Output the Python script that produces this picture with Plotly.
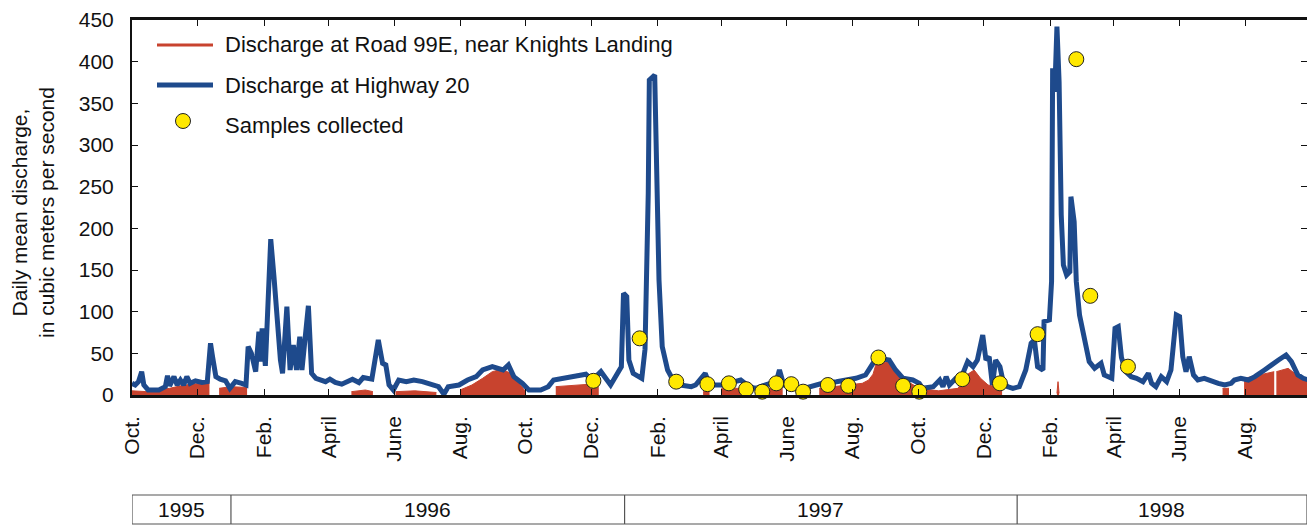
import plotly.graph_objects as go

# ---------------- data ----------------
hw20_dates = [
    "1995-10-01","1995-10-04","1995-10-07","1995-10-10","1995-10-12","1995-10-16","1995-10-26",
    "1995-11-01","1995-11-03","1995-11-05","1995-11-09","1995-11-12","1995-11-15","1995-11-18",
    "1995-11-21","1995-11-24","1995-11-29","1995-12-05","1995-12-10","1995-12-13","1995-12-15",
    "1995-12-18","1995-12-22","1995-12-27","1995-12-31","1996-01-05","1996-01-11","1996-01-15",
    "1996-01-17","1996-01-20","1996-01-24","1996-01-27","1996-01-28","1996-01-30","1996-02-02",
    "1996-02-04","1996-02-07","1996-02-10","1996-02-13","1996-02-16","1996-02-18","1996-02-22",
    "1996-02-25","1996-02-28","1996-03-02","1996-03-05","1996-03-07","1996-03-13","1996-03-16",
    "1996-03-20","1996-03-29","1996-04-02","1996-04-07","1996-04-13","1996-04-23","1996-04-29",
    "1996-05-03","1996-05-11","1996-05-17","1996-05-21","1996-05-24","1996-05-27","1996-05-31",
    "1996-06-05","1996-06-12","1996-06-19","1996-06-27","1996-07-03","1996-07-12","1996-07-17",
    "1996-07-21","1996-07-31","1996-08-08","1996-08-16","1996-08-22","1996-08-31","1996-09-10",
    "1996-09-15","1996-09-20","1996-09-28","1996-10-04","1996-10-15","1996-10-22","1996-10-27",
    "1996-11-04","1996-11-16","1996-11-26","1996-12-02","1996-12-10","1996-12-19","1996-12-29",
    "1996-12-31","1997-01-03","1997-01-05","1997-01-09","1997-01-17","1997-01-20","1997-01-23",
    "1997-01-24","1997-01-29","1997-01-31","1997-02-02","1997-02-05","1997-02-10","1997-02-15",
    "1997-02-22","1997-03-04","1997-03-08","1997-03-17","1997-03-21","1997-04-02","1997-04-19",
    "1997-04-27","1997-05-03","1997-05-12","1997-05-22","1997-05-25","1997-05-29","1997-06-12",
    "1997-06-22","1997-07-04","1997-07-17","1997-08-04","1997-08-13","1997-08-20","1997-08-26",
    "1997-09-04","1997-09-10","1997-09-17","1997-09-26","1997-10-02","1997-10-05","1997-10-15",
    "1997-10-21","1997-10-24","1997-10-27","1997-10-30","1997-11-05","1997-11-11","1997-11-16",
    "1997-11-21","1997-11-25","1997-11-30","1997-12-03","1997-12-06","1997-12-09","1997-12-12",
    "1997-12-16","1997-12-19","1997-12-23","1997-12-28","1998-01-03","1998-01-09","1998-01-14",
    "1998-01-17","1998-01-20","1998-01-25","1998-01-26","1998-01-31","1998-02-02","1998-02-03",
    "1998-02-05","1998-02-07","1998-02-09","1998-02-11","1998-02-13","1998-02-16","1998-02-19",
    "1998-02-20","1998-02-23","1998-02-25","1998-02-28","1998-03-05","1998-03-09","1998-03-14",
    "1998-03-20","1998-03-23","1998-03-30","1998-04-02","1998-04-05","1998-04-08","1998-04-12",
    "1998-04-17","1998-04-22","1998-04-28","1998-05-03","1998-05-06","1998-05-10","1998-05-15",
    "1998-05-20","1998-05-24","1998-05-29","1998-06-01","1998-06-04","1998-06-07","1998-06-10",
    "1998-06-14","1998-06-18","1998-06-24","1998-07-01","1998-07-07","1998-07-13","1998-07-19",
    "1998-07-22","1998-07-28","1998-08-04","1998-08-10","1998-08-19","1998-08-25","1998-09-01",
    "1998-09-08","1998-09-13","1998-09-19","1998-09-24","1998-09-29",
]
hw20_cms = [
    14, 12, 16, 28, 12, 6, 6,
    10, 23, 11, 22, 12, 18, 12,
    22, 14, 17, 15, 16, 62, 45,
    22, 19, 17, 8, 16, 14, 12,
    58, 50, 28, 76, 40, 80, 35,
    100, 187, 142, 90, 42, 26, 106,
    30, 60, 30, 70, 30, 107, 26,
    20, 16, 19, 15, 13, 19, 15,
    21, 19, 66, 38, 36, 12, 6,
    18, 16, 18, 16, 14, 10, 1,
    10, 12, 18, 22, 30, 34, 30,
    36, 22, 14, 6, 6, 10, 18,
    20, 22, 25, 18, 28, 12, 34,
    122, 118, 42, 26, 20, 55, 242,
    378, 384, 250, 138, 58, 30, 18,
    12, 10, 12, 26, 12, 12, 18,
    10, 8, 12, 16, 30, 12, 6,
    10, 14, 16, 20, 24, 38, 44,
    42, 30, 20, 18, 14, 8, 10,
    18, 10, 22, 12, 20, 24, 40,
    34, 42, 72, 42, 46, 12, 42,
    34, 16, 10, 8, 10, 30, 62,
    66, 34, 30, 88, 90, 136, 392,
    364, 442, 376, 216, 156, 144, 148,
    238, 208, 136, 96, 64, 40, 32,
    38, 24, 20, 80, 82, 45, 28,
    22, 20, 16, 26, 14, 10, 22,
    16, 30, 96, 94, 46, 28, 46,
    24, 18, 20, 16, 14, 12, 14,
    18, 20, 18, 22, 30, 36, 42,
    48, 40, 24, 20, 18,
]

road99e_dates = [
    "1995-10-01","1995-10-15","1995-10-25","1995-11-05","1995-11-15","1995-11-25","1995-12-05",
    "1995-12-12","1995-12-13","1995-12-21","1996-01-01","1996-01-16","1996-01-17","1996-04-22",
    "1996-05-05","1996-05-12","1996-05-13","1996-06-02","1996-06-20","1996-07-10","1996-07-11",
    "1996-08-01","1996-08-12","1996-08-22","1996-08-31","1996-09-09","1996-09-17","1996-09-25",
    "1996-10-01","1996-10-02","1996-10-29","1996-11-10","1996-11-23","1996-11-30","1996-12-08",
    "1996-12-09","1997-03-15","1997-03-21","1997-03-22","1997-04-01","1997-04-21","1997-04-22",
    "1997-05-15","1997-05-28","1997-05-29","1997-07-01","1997-07-20","1997-08-10","1997-08-16",
    "1997-08-20","1997-08-23","1997-09-04","1997-09-10","1997-09-17","1997-09-24","1997-10-02",
    "1997-10-20","1997-11-07","1997-11-15","1997-11-22","1997-11-28","1997-12-05","1997-12-12",
    "1997-12-18","1997-12-19","1998-02-07","1998-02-08","1998-02-09","1998-02-10","1998-07-11",
    "1998-07-17","1998-07-18","1998-07-31","1998-08-15","1998-08-28","1998-08-29","1998-08-30",
    "1998-09-10","1998-09-20","1998-09-28",
]
road99e_cms = [
    5, 4, 6, 8, 11, 13, 14,
    17, None, 8, 10, 9, None, 4,
    6, 4, None, 4, 5, 3, None,
    6, 12, 20, 28, 31, 26, 14,
    4, None, 10, 11, 12, 13, 12,
    None, 4, 4, None, 8, 8, None,
    8, 8, None, 8, 11, 14, 18,
    25, 38, 40, 32, 20, 14, 8,
    5, 8, 24, 30, 20, 12, 10,
    6, None, 2, 16, 2, None, 8,
    8, None, 20, 24, 28, None, 28,
    32, 22, 18,
]

sample_dates = [
    "1996-12-03","1997-01-15","1997-02-18","1997-03-19","1997-04-08","1997-04-24","1997-05-09",
    "1997-05-22","1997-06-05","1997-06-16","1997-07-09","1997-07-28","1997-08-25","1997-09-17",
    "1997-10-02","1997-11-11","1997-12-16","1998-01-20","1998-02-25","1998-03-10","1998-04-14",
]
sample_cms = [
    17, 68, 16, 13, 14, 7, 4,
    14, 13, 4, 12, 11, 45, 11,
    4, 19, 14, 73, 403, 119, 34,
]

month_ticks = [
    "1995-10-01","1995-12-01","1996-02-01","1996-04-01","1996-06-01","1996-08-01",
    "1996-10-01","1996-12-01","1997-02-01","1997-04-01","1997-06-01","1997-08-01",
    "1997-10-01","1997-12-01","1998-02-01","1998-04-01","1998-06-01","1998-08-01",
]
month_labels = ["Oct.", "Dec.", "Feb.", "April", "June", "Aug."] * 3

year_labels = ["1995", "1996", "1997", "1998"]
year_starts = ["1995-10-01", "1996-01-01", "1997-01-01", "1998-01-01"]
year_ends = ["1996-01-01", "1997-01-01", "1998-01-01", "1998-09-27 12:00"]
year_centers = ["1995-11-16", "1996-07-02", "1997-07-02", "1998-05-15"]

legend_names = [
    "Discharge at Road 99E, near Knights Landing",
    "Discharge at Highway 20",
    "Samples collected",
]

# ---------------- style ----------------
RED = "#C8432E"
BLUE = "#1E4A8C"
YELLOW = "#FFE800"
FONT = "Liberation Sans, Arial, sans-serif"
NARROW = "Liberation Sans Narrow, Arial Narrow, Liberation Sans, sans-serif"

W, H = 1307, 525
ML, MR, MT, MB = 132, 0, 20, 130
PW, PH = W - ML - MR, H - MT - MB


def px_x(p):
    return (p - ML) / PW


def px_y(p):
    return (H - MB - p) / PH


fig = go.Figure()

# Road 99E: each run of records between missing values is filled separately
seg_x, seg_y = [], []
segments = []
for d, v in zip(road99e_dates, road99e_cms):
    if v is None:
        if seg_x:
            segments.append((seg_x, seg_y))
        seg_x, seg_y = [], []
    else:
        seg_x.append(d)
        seg_y.append(v)
if seg_x:
    segments.append((seg_x, seg_y))

for sx, sy in segments:
    fig.add_trace(go.Scatter(
        x=sx, y=sy, mode="lines", name=legend_names[0], legendgroup="r",
        line=dict(color=RED, width=1), fill="tozeroy", fillcolor=RED,
        showlegend=False,
    ))

fig.add_trace(go.Scatter(
    x=hw20_dates, y=hw20_cms, mode="lines", name=legend_names[1],
    line=dict(color=BLUE, width=5), showlegend=False,
))
fig.add_trace(go.Scatter(
    x=sample_dates, y=sample_cms, mode="markers", name=legend_names[2],
    marker=dict(size=15, color=YELLOW, line=dict(color="#222222", width=1)),
    showlegend=False, cliponaxis=False,
))

shapes = []
annotations = []

# manual legend
leg_rows = [45, 85, 125]
shapes.append(dict(type="line", xref="paper", yref="paper",
                   x0=px_x(157), x1=px_x(213), y0=px_y(leg_rows[0]), y1=px_y(leg_rows[0]),
                   line=dict(color=RED, width=3)))
shapes.append(dict(type="line", xref="paper", yref="paper",
                   x0=px_x(157), x1=px_x(213), y0=px_y(leg_rows[1]), y1=px_y(leg_rows[1]),
                   line=dict(color=BLUE, width=5)))
shapes.append(dict(type="circle", xref="paper", yref="paper",
                   xsizemode="pixel", ysizemode="pixel",
                   xanchor=px_x(183), yanchor=px_y(leg_rows[2] - 4),
                   x0=-7.5, x1=7.5, y0=-7.5, y1=7.5,
                   fillcolor=YELLOW, line=dict(color="#222222", width=1)))
for name, row in zip(legend_names, leg_rows):
    annotations.append(dict(text=name, xref="paper", yref="paper",
                            x=px_x(223), y=px_y(row), xanchor="left", yanchor="middle",
                            showarrow=False, font=dict(family=FONT, size=22, color="#111111")))

# y-axis title
annotations.append(dict(text="Daily mean discharge,<br>in cubic meters per second",
                        xref="paper", yref="paper", x=px_x(33), y=px_y(213),
                        xanchor="center", yanchor="middle", textangle=-90, showarrow=False,
                        font=dict(family=FONT, size=21, color="#111111")))

# year table below the axis
tb_top, tb_bot = px_y(495), px_y(524)
shapes.append(dict(type="rect", xref="x", yref="paper",
                   x0=year_starts[0], x1=year_ends[-1], y0=tb_bot, y1=tb_top,
                   line=dict(color="#555555", width=1.2), fillcolor="rgba(0,0,0,0)"))
for s in year_starts[1:]:
    shapes.append(dict(type="line", xref="x", yref="paper", x0=s, x1=s, y0=tb_bot, y1=tb_top,
                       line=dict(color="#555555", width=1.2)))
for lab, c in zip(year_labels, year_centers):
    annotations.append(dict(text=lab, xref="x", yref="paper", x=c, y=(tb_top + tb_bot) / 2,
                            xanchor="center", yanchor="middle", showarrow=False,
                            font=dict(family=NARROW, size=21, color="#111111")))

fig.update_layout(
    width=W, height=H,
    margin=dict(l=ML, r=MR, t=MT, b=MB, autoexpand=False),
    paper_bgcolor="white", plot_bgcolor="white",
    showlegend=False,
    shapes=shapes, annotations=annotations,
    xaxis=dict(
        type="date", range=["1995-10-01", "1998-09-27 12:00"], automargin=False,
        tickmode="array", tickvals=month_ticks, ticktext=month_labels,
        tickangle=-90, ticks="inside", ticklen=6, tickwidth=1.2, tickcolor="#111111",
        showline=True, linecolor="#111111", linewidth=2.5, mirror="ticks",
        showgrid=False, zeroline=False, ticklabelstandoff=10,
        tickfont=dict(family=NARROW, size=21, color="#111111"),
    ),
    yaxis=dict(
        range=[0, 450], tickmode="array", tickvals=list(range(0, 451, 50)), automargin=False,
        ticks="inside", ticklen=6, tickwidth=1.2, tickcolor="#111111",
        showline=True, linecolor="#111111", linewidth=2, mirror="ticks",
        showgrid=False, zeroline=False, ticklabelstandoff=12,
        tickfont=dict(family=NARROW, size=21, color="#111111"),
    ),
)

fig.write_html(
    "out.html",
    config={"displayModeBar": False},
    post_script="document.body.style.margin='0';document.body.style.overflow='hidden';",
)
